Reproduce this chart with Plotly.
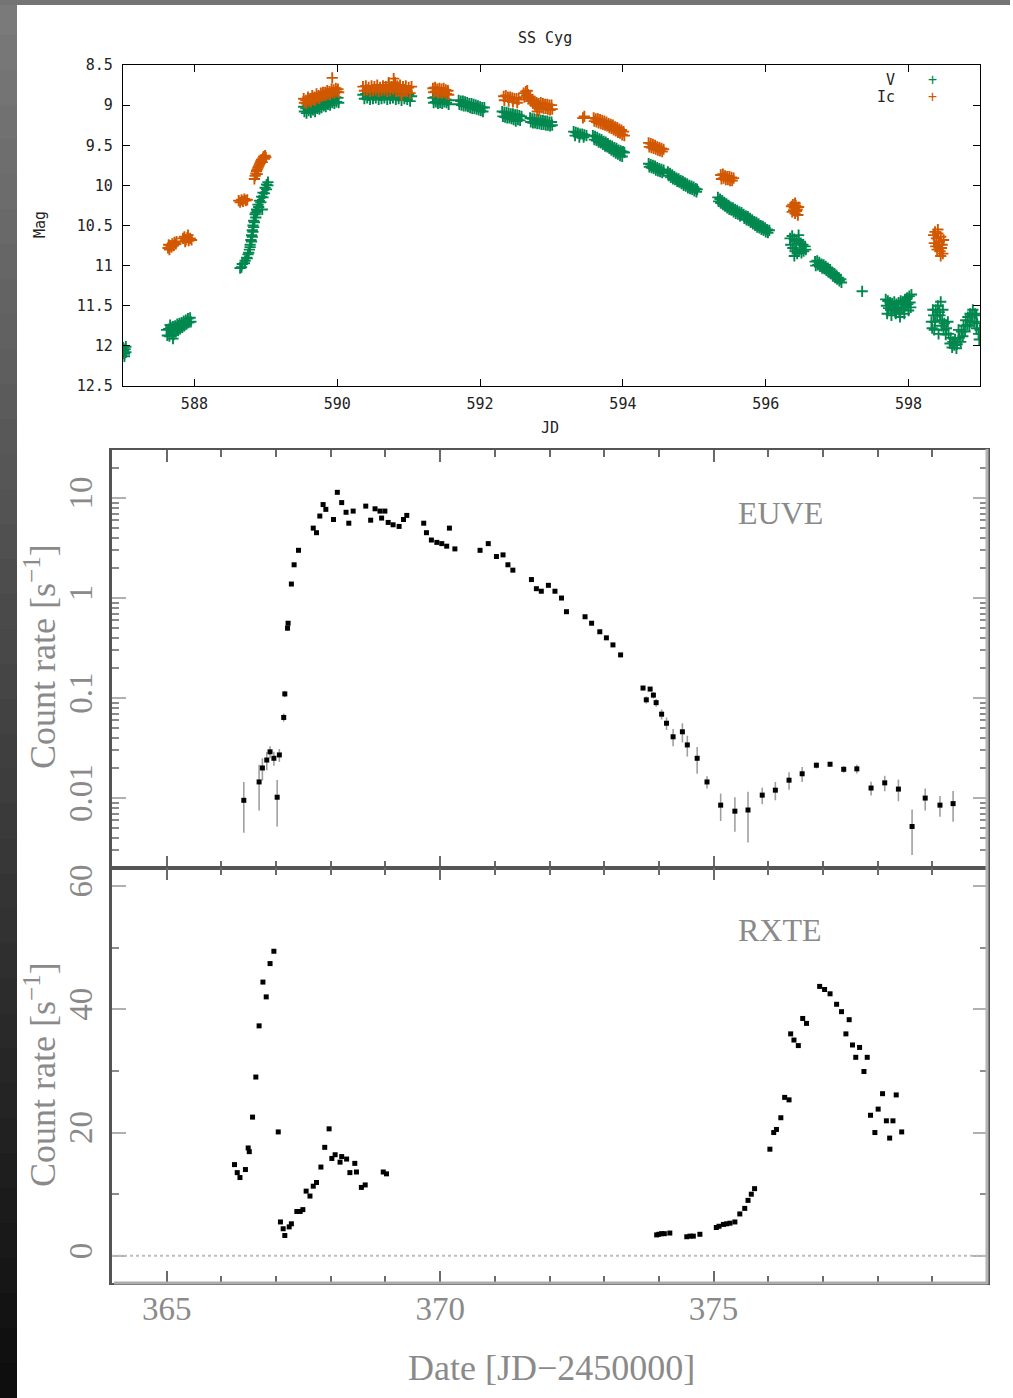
import plotly.graph_objects as go

# ---------------- SS Cyg optical light curve (V and Ic magnitudes) ----------------
v_jd = [
    587.00, 587.01, 587.02, 587.03, 587.04, 587.02, 587.00, 587.04,
    587.61, 587.64, 587.67, 587.70, 587.73, 587.76, 587.79, 587.82, 587.85, 587.88, 587.91, 587.94,
    587.62, 587.65, 587.68, 587.71, 587.74, 587.77, 587.80, 587.83, 587.86, 587.89, 587.92, 587.95,
    587.70, 587.66,
    588.64, 588.67, 588.71, 588.73, 588.75, 588.77, 588.78, 588.79, 588.80, 588.81, 588.82, 588.83,
    588.85, 588.87, 588.89, 588.91, 588.94, 588.96, 588.99, 589.01, 589.03, 588.86, 588.95,
    588.66, 588.70, 588.74, 588.76, 588.78, 588.80, 588.81, 588.82, 588.83, 588.84, 588.86, 588.88,
    588.90, 588.93, 588.96, 588.98, 589.01, 589.03,
    589.53, 589.56, 589.59, 589.62, 589.65, 589.68, 589.71, 589.74, 589.77, 589.80, 589.83, 589.86,
    589.89, 589.92, 589.95, 589.98, 590.01,
    589.54, 589.57, 589.60, 589.63, 589.66, 589.69, 589.72, 589.75, 589.78, 589.81, 589.84, 589.87,
    589.90, 589.93, 589.96, 589.99, 590.02,
    590.36, 590.40, 590.44, 590.48, 590.52, 590.56, 590.60, 590.64, 590.68, 590.72, 590.76, 590.80,
    590.84, 590.88, 590.92, 590.96, 591.00, 591.04,
    590.38, 590.42, 590.46, 590.50, 590.54, 590.58, 590.62, 590.66, 590.70, 590.74, 590.78, 590.82,
    590.86, 590.90, 590.94, 590.98, 591.02,
    591.34, 591.37, 591.40, 591.43, 591.46, 591.49, 591.52, 591.55,
    591.35, 591.38, 591.41, 591.44, 591.47, 591.50, 591.53, 591.56,
    591.70, 591.73, 591.76, 591.79, 591.82, 591.85, 591.88, 591.91, 591.94, 591.97, 592.00, 592.03, 592.06,
    591.71, 591.74, 591.77, 591.80, 591.83, 591.86, 591.89, 591.92, 591.95, 591.98, 592.01, 592.04,
    592.31, 592.34, 592.37, 592.40, 592.43, 592.46, 592.49, 592.52, 592.55, 592.58,
    592.32, 592.35, 592.38, 592.41, 592.44, 592.47, 592.50, 592.53, 592.56,
    592.70, 592.73, 592.76, 592.79, 592.82, 592.85, 592.88, 592.91, 592.94, 592.97, 593.00,
    592.71, 592.74, 592.77, 592.80, 592.83, 592.86, 592.89, 592.92, 592.95, 592.98, 593.01,
    593.31, 593.34, 593.37, 593.40, 593.43, 593.46, 593.49, 593.33, 593.39, 593.45,
    593.58, 593.61, 593.64, 593.67, 593.70, 593.73, 593.76, 593.79, 593.82, 593.85, 593.88, 593.91,
    593.94, 593.97, 594.00, 594.02,
    593.60, 593.63, 593.66, 593.69, 593.72, 593.75, 593.78, 593.81, 593.84, 593.87, 593.90, 593.93,
    593.96, 593.99,
    594.36, 594.39, 594.42, 594.45, 594.48, 594.51, 594.54, 594.57,
    594.37, 594.40, 594.43, 594.46, 594.49, 594.52, 594.55,
    594.63, 594.66, 594.69, 594.72, 594.75, 594.78, 594.81, 594.84, 594.87, 594.90, 594.93, 594.96,
    594.99, 595.02, 595.04,
    594.64, 594.67, 594.70, 594.73, 594.76, 594.79, 594.82, 594.85, 594.88, 594.91, 594.94, 594.97,
    595.00, 595.03,
    595.33, 595.36, 595.39, 595.42, 595.45, 595.48, 595.51, 595.54, 595.57, 595.60, 595.63, 595.66,
    595.34, 595.37, 595.40, 595.43, 595.46, 595.49, 595.52, 595.55, 595.58, 595.61, 595.64,
    595.69, 595.72, 595.75, 595.78, 595.81, 595.84, 595.87, 595.90, 595.93, 595.96, 595.99, 596.02, 596.05,
    595.70, 595.73, 595.76, 595.79, 595.82, 595.85, 595.88, 595.91, 595.94, 595.97, 596.00, 596.03,
    596.34, 596.37, 596.40, 596.43, 596.46, 596.49, 596.52, 596.55,
    596.35, 596.38, 596.41, 596.44, 596.47, 596.50, 596.53, 596.56, 596.40, 596.46,
    596.69, 596.72, 596.75, 596.78, 596.81, 596.84, 596.87, 596.90, 596.93, 596.96, 596.99, 597.02, 597.05,
    596.70, 596.73, 596.76, 596.79, 596.82, 596.85, 596.88, 596.91, 596.94, 596.97, 597.00, 597.03, 597.06,
    597.35,
    597.68, 597.71, 597.74, 597.77, 597.80, 597.83, 597.86, 597.89, 597.92, 597.95, 597.98, 598.01, 598.04,
    597.69, 597.72, 597.75, 597.78, 597.81, 597.84, 597.87, 597.90, 597.93, 597.96, 597.99, 598.02,
    597.70, 597.76, 597.82, 597.88, 597.94, 598.00, 598.03,
    598.32, 598.35, 598.38, 598.41, 598.44, 598.47, 598.50, 598.53, 598.56, 598.59, 598.62, 598.65,
    598.68, 598.71, 598.74, 598.77, 598.80, 598.83, 598.86, 598.89, 598.92, 598.95, 598.98, 599.00,
    598.36, 598.42, 598.48, 598.55, 598.70, 598.85, 598.95,
    598.33, 598.37, 598.40, 598.43, 598.46, 598.49, 598.52, 598.58, 598.61, 598.64, 598.67, 598.73,
    598.76, 598.79, 598.82, 598.87, 598.90, 598.93, 598.96, 598.99, 599.02, 598.34, 598.45,
]
v_mag = [
    12.02, 12.06, 12.10, 12.04, 12.08, 12.13, 12.09, 12.01,
    11.80, 11.79, 11.77, 11.76, 11.75, 11.73, 11.72, 11.71, 11.69, 11.68, 11.66, 11.65,
    11.87, 11.88, 11.85, 11.86, 11.83, 11.81, 11.79, 11.77, 11.75, 11.73, 11.71, 11.70,
    11.91, 11.74,
    11.03, 10.98, 10.94, 10.90, 10.86, 10.80, 10.74, 10.68, 10.62, 10.56, 10.50, 10.44,
    10.36, 10.30, 10.24, 10.19, 10.14, 10.09, 10.03, 9.99, 9.96, 10.34, 10.30,
    11.02, 10.97, 10.91, 10.84, 10.77, 10.70, 10.64, 10.58, 10.52, 10.46, 10.40, 10.32,
    10.27, 10.21, 10.15, 10.10, 10.05, 10.00,
    9.02, 9.04, 9.01, 9.03, 9.00, 9.02, 8.98, 9.00, 8.97, 8.95, 8.96, 8.93,
    8.94, 8.91, 8.92, 8.90, 8.91,
    9.08, 9.10, 9.07, 9.09, 9.06, 9.08, 9.04, 9.05, 9.03, 9.01, 9.02, 8.99,
    9.00, 8.97, 8.98, 8.96, 8.97,
    8.87, 8.86, 8.88, 8.86, 8.87, 8.85, 8.88, 8.86, 8.87, 8.85, 8.88, 8.86,
    8.87, 8.86, 8.88, 8.86, 8.87, 8.89,
    8.92, 8.91, 8.93, 8.92, 8.91, 8.93, 8.92, 8.91, 8.93, 8.92, 8.91, 8.93,
    8.92, 8.94, 8.92, 8.93, 8.95,
    8.91, 8.90, 8.92, 8.91, 8.92, 8.91, 8.93, 8.94,
    8.97, 8.96, 8.98, 8.97, 8.98, 8.96, 8.97, 8.99,
    8.94, 8.95, 8.95, 8.96, 8.97, 8.98, 8.98, 8.99, 9.00, 9.01, 9.02, 9.03, 9.03,
    8.99, 9.00, 9.01, 9.01, 9.02, 9.03, 9.04, 9.04, 9.05, 9.06, 9.07, 9.08,
    9.08, 9.09, 9.09, 9.10, 9.11, 9.11, 9.12, 9.12, 9.13, 9.14,
    9.14, 9.15, 9.16, 9.16, 9.17, 9.18, 9.20, 9.18, 9.19,
    9.16, 9.17, 9.17, 9.18, 9.18, 9.19, 9.19, 9.20, 9.20, 9.21, 9.21,
    9.21, 9.22, 9.22, 9.23, 9.23, 9.24, 9.24, 9.25, 9.25, 9.26, 9.25,
    9.33, 9.34, 9.35, 9.36, 9.36, 9.37, 9.38, 9.38, 9.40, 9.40,
    9.38, 9.39, 9.40, 9.42, 9.43, 9.45, 9.46, 9.48, 9.50, 9.51, 9.53, 9.54,
    9.56, 9.57, 9.58, 9.59,
    9.43, 9.44, 9.46, 9.47, 9.49, 9.51, 9.52, 9.54, 9.56, 9.58, 9.60, 9.61,
    9.63, 9.64,
    9.73, 9.74, 9.75, 9.76, 9.78, 9.79, 9.80, 9.81,
    9.77, 9.78, 9.79, 9.81, 9.82, 9.83, 9.84,
    9.83, 9.85, 9.87, 9.89, 9.91, 9.92, 9.94, 9.95, 9.97, 9.98, 10.00, 10.01,
    10.02, 10.04, 10.05,
    9.88, 9.90, 9.92, 9.93, 9.95, 9.96, 9.98, 10.00, 10.01, 10.03, 10.04, 10.05,
    10.07, 10.08,
    10.15, 10.17, 10.19, 10.21, 10.23, 10.25, 10.27, 10.28, 10.30, 10.31, 10.33, 10.34,
    10.20, 10.22, 10.24, 10.26, 10.28, 10.30, 10.31, 10.33, 10.35, 10.36, 10.38,
    10.36, 10.38, 10.39, 10.41, 10.43, 10.45, 10.46, 10.48, 10.50, 10.51, 10.53, 10.55, 10.56,
    10.41, 10.43, 10.44, 10.46, 10.48, 10.50, 10.52, 10.53, 10.55, 10.56, 10.58, 10.59,
    10.66, 10.63, 10.67, 10.70, 10.68, 10.72, 10.74, 10.76,
    10.74, 10.78, 10.82, 10.85, 10.80, 10.84, 10.82, 10.80, 10.88, 10.62,
    10.95, 10.94, 10.96, 10.98, 10.99, 11.01, 11.03, 11.05, 11.08, 11.10, 11.12, 11.15, 11.17,
    11.00, 10.99, 11.01, 11.03, 11.04, 11.06, 11.08, 11.10, 11.13, 11.15, 11.17, 11.19, 11.21,
    11.32,
    11.42, 11.44, 11.46, 11.47, 11.45, 11.48, 11.46, 11.44, 11.45, 11.42, 11.40, 11.38, 11.36,
    11.50, 11.53, 11.55, 11.52, 11.56, 11.54, 11.58, 11.55, 11.52, 11.50, 11.48, 11.46,
    11.60, 11.62, 11.60, 11.64, 11.60, 11.56, 11.52,
    11.70, 11.62, 11.55, 11.50, 11.62, 11.68, 11.72, 11.78, 11.85, 11.90, 11.95, 11.92,
    11.98, 11.90, 11.82, 11.75, 11.68, 11.64, 11.60, 11.62, 11.70, 11.78, 11.85, 11.80,
    11.80, 11.85, 11.55, 11.70, 11.80, 11.75, 11.62,
    11.78, 11.70, 11.62, 11.58, 11.75, 11.80, 11.86, 11.97, 12.02, 11.99, 12.03, 11.95,
    11.88, 11.82, 11.74, 11.70, 11.55, 11.60, 11.72, 11.92, 11.85, 11.55, 11.45,
]

ic_jd = [
    587.63, 587.65, 587.66, 587.68, 587.69, 587.71, 587.72, 587.74, 587.75, 587.64,
    587.84, 587.86, 587.88, 587.90, 587.92, 587.94, 587.96, 587.87, 587.91,
    588.62, 588.64, 588.66, 588.68, 588.70, 588.72, 588.74,
    588.84, 588.85, 588.86, 588.87, 588.88, 588.89, 588.90, 588.91, 588.92, 588.93, 588.94, 588.95,
    588.96, 588.97, 588.98, 588.99, 589.00, 588.88,
    589.53, 589.56, 589.59, 589.62, 589.65, 589.68, 589.71, 589.74, 589.77, 589.80, 589.83, 589.86,
    589.89, 589.92, 589.95, 589.98, 590.01,
    589.54, 589.57, 589.60, 589.63, 589.66, 589.69, 589.72, 589.75, 589.78, 589.81, 589.84, 589.87,
    589.90, 589.93, 589.96, 589.99, 590.02, 589.93,
    590.36, 590.40, 590.44, 590.48, 590.52, 590.56, 590.60, 590.64, 590.68, 590.72, 590.76, 590.80,
    590.84, 590.88, 590.92, 590.96, 591.00, 591.04,
    590.38, 590.42, 590.46, 590.50, 590.54, 590.58, 590.62, 590.66, 590.70, 590.74, 590.78, 590.82,
    590.86, 590.90, 590.94, 590.98, 591.02, 590.79, 590.81, 590.72, 590.90,
    591.34, 591.37, 591.40, 591.43, 591.46, 591.49, 591.52, 591.55,
    591.35, 591.38, 591.41, 591.44, 591.47, 591.50, 591.53, 591.56,
    592.33, 592.36, 592.39, 592.42, 592.45, 592.48, 592.51, 592.54, 592.34, 592.40, 592.46, 592.52,
    592.61, 592.64, 592.67, 592.70, 592.73, 592.76, 592.79, 592.82, 592.85, 592.88, 592.91, 592.94,
    592.97, 593.00,
    592.62, 592.65, 592.68, 592.71, 592.74, 592.77, 592.80, 592.83, 592.86, 592.89, 592.92, 592.95,
    592.98, 593.01, 592.80, 592.66,
    593.44, 593.46,
    593.59, 593.62, 593.65, 593.68, 593.71, 593.74, 593.77, 593.80, 593.83, 593.86, 593.89, 593.92,
    593.95, 593.98, 594.01,
    593.60, 593.63, 593.66, 593.69, 593.72, 593.75, 593.78, 593.81, 593.84, 593.87, 593.90, 593.93,
    593.96, 593.99, 594.02,
    594.36, 594.39, 594.42, 594.45, 594.48, 594.51, 594.54, 594.57,
    594.37, 594.40, 594.43, 594.46, 594.49, 594.52, 594.55,
    595.37, 595.40, 595.43, 595.46, 595.49, 595.52, 595.55,
    595.38, 595.41, 595.44, 595.47, 595.50, 595.53,
    596.36, 596.38, 596.40, 596.42, 596.44, 596.46, 596.37, 596.39, 596.41, 596.43, 596.45, 596.41,
    598.35, 598.37, 598.39, 598.41, 598.43, 598.45, 598.47, 598.49,
    598.36, 598.38, 598.40, 598.42, 598.44, 598.46, 598.48, 598.41, 598.45,
]
ic_mag = [
    10.78, 10.80, 10.75, 10.77, 10.73, 10.75, 10.71, 10.73, 10.70, 10.74,
    10.66, 10.64, 10.68, 10.65, 10.69, 10.66, 10.68, 10.70, 10.62,
    10.19, 10.21, 10.18, 10.20, 10.17, 10.19, 10.18,
    9.92, 9.88, 9.85, 9.82, 9.80, 9.78, 9.76, 9.74, 9.72, 9.70, 9.68, 9.71,
    9.66, 9.64, 9.67, 9.63, 9.65, 9.86,
    8.92, 8.94, 8.90, 8.92, 8.88, 8.90, 8.86, 8.88, 8.85, 8.84, 8.84, 8.82,
    8.83, 8.80, 8.81, 8.79, 8.80,
    8.97, 8.98, 8.95, 8.96, 8.93, 8.94, 8.91, 8.92, 8.89, 8.88, 8.88, 8.86,
    8.87, 8.84, 8.85, 8.83, 8.84, 8.66,
    8.77, 8.76, 8.78, 8.76, 8.77, 8.75, 8.78, 8.76, 8.77, 8.75, 8.77, 8.74,
    8.76, 8.75, 8.77, 8.76, 8.78, 8.77,
    8.82, 8.81, 8.83, 8.82, 8.81, 8.83, 8.82, 8.81, 8.83, 8.82, 8.80, 8.83,
    8.82, 8.84, 8.82, 8.83, 8.85, 8.67, 8.72, 8.72, 8.88,
    8.79, 8.78, 8.80, 8.79, 8.80, 8.79, 8.81, 8.82,
    8.84, 8.83, 8.85, 8.84, 8.85, 8.84, 8.86, 8.87,
    8.89, 8.88, 8.90, 8.90, 8.91, 8.92, 8.92, 8.93, 8.94, 8.95, 8.96, 8.97,
    8.85, 8.83, 8.87, 8.90, 8.93, 8.95, 8.97, 8.98, 8.97, 8.98, 8.99, 8.99,
    9.00, 9.00,
    8.90, 8.88, 8.92, 8.95, 8.98, 9.00, 9.02, 9.05, 9.03, 9.04, 9.04, 9.05,
    9.06, 9.05, 9.08, 8.82,
    9.16, 9.14,
    9.16, 9.17, 9.17, 9.18, 9.19, 9.20, 9.21, 9.23, 9.24, 9.25, 9.27, 9.28,
    9.30, 9.31, 9.33,
    9.20, 9.21, 9.22, 9.23, 9.24, 9.25, 9.26, 9.28, 9.29, 9.31, 9.32, 9.34,
    9.35, 9.37, 9.38,
    9.47, 9.48, 9.49, 9.50, 9.52, 9.53, 9.54, 9.55,
    9.52, 9.53, 9.54, 9.55, 9.56, 9.57, 9.58,
    9.87, 9.86, 9.88, 9.89, 9.89, 9.90, 9.91,
    9.92, 9.91, 9.93, 9.93, 9.94, 9.94,
    10.26, 10.24, 10.28, 10.25, 10.30, 10.27, 10.33, 10.31, 10.35, 10.32, 10.37, 10.22,
    10.62, 10.58, 10.66, 10.60, 10.70, 10.64, 10.74, 10.68,
    10.72, 10.76, 10.80, 10.74, 10.82, 10.78, 10.85, 10.55, 10.88,
]

# ---------------- EUVE count rate (log scale) ----------------
euve_date = [
    366.41, 366.69, 366.75, 366.83, 366.89, 366.96, 367.02, 367.06, 367.14, 367.16,
    367.21, 367.22, 367.28, 367.33, 367.41, 367.68, 367.74, 367.80, 367.86, 367.91,
    368.05, 368.12, 368.20, 368.28, 368.33, 368.41, 368.64, 368.73, 368.81, 368.90,
    368.93, 368.99, 369.05, 369.14, 369.25, 369.33, 369.39, 369.70, 369.75, 369.84,
    369.94, 370.03, 370.12, 370.17, 370.27, 370.73, 370.88, 371.03, 371.15, 371.24,
    371.33, 371.67, 371.76, 371.85, 371.98, 372.10, 372.22, 372.31, 372.65, 372.77,
    372.92, 373.04, 373.16, 373.30, 373.71, 373.77, 373.84, 373.90, 373.95, 374.05,
    374.14, 374.26, 374.43, 374.52, 374.70, 374.88, 375.13, 375.39, 375.63, 375.89,
    376.13, 376.38, 376.62, 376.88, 377.13, 377.38, 377.62, 377.88, 378.13, 378.38,
    378.63, 378.87, 379.14, 379.38,
]
euve_rate = [
    0.0095, 0.0145, 0.020, 0.024, 0.029, 0.025, 0.0102, 0.027, 0.064, 0.11,
    0.50, 0.56, 1.38, 2.15, 3.0, 5.0, 4.5, 6.6, 8.6, 7.7,
    6.1, 11.4, 9.0, 7.2, 5.6, 7.4, 8.3, 6.0, 7.8, 7.4,
    6.3, 7.4, 5.7, 5.4, 5.2, 6.1, 6.7, 5.6, 4.5, 3.8,
    3.6, 3.5, 3.3, 5.0, 3.1, 3.0, 3.5, 2.6, 2.7, 2.15,
    1.9, 1.53, 1.24, 1.17, 1.34, 1.17, 1.0, 0.73, 0.65, 0.56,
    0.46, 0.40, 0.34, 0.27, 0.126, 0.096, 0.123, 0.107, 0.090, 0.069,
    0.056, 0.041, 0.046, 0.034, 0.025, 0.0145, 0.0085, 0.0074, 0.0076, 0.0107,
    0.012, 0.0151, 0.0175, 0.0213, 0.0218, 0.0194, 0.0196, 0.0126, 0.0142, 0.0123,
    0.0052, 0.0100, 0.0085, 0.0088,
]
euve_err = [
    0.005, 0.007, 0.005, 0.005, 0.004, 0.004, 0.005, 0.004, 0.006, 0.008,
    0.03, 0.03, 0.05, 0.06, 0.08, 0.1, 0.1, 0.12, 0.15, 0.15,
    0.12, 0.2, 0.15, 0.15, 0.12, 0.15, 0.15, 0.12, 0.15, 0.15,
    0.12, 0.15, 0.12, 0.12, 0.12, 0.12, 0.12, 0.1, 0.1, 0.08,
    0.08, 0.08, 0.08, 0.1, 0.08, 0.08, 0.08, 0.06, 0.06, 0.05,
    0.05, 0.04, 0.03, 0.03, 0.03, 0.03, 0.03, 0.02, 0.02, 0.02,
    0.015, 0.012, 0.01, 0.01, 0.006, 0.008, 0.006, 0.008, 0.008, 0.008,
    0.008, 0.008, 0.010, 0.008, 0.0075, 0.002, 0.0026, 0.0028, 0.004, 0.002,
    0.0025, 0.003, 0.003, 0.0015, 0.0012, 0.0015, 0.002, 0.002, 0.0025, 0.003,
    0.0025, 0.0025, 0.002, 0.003,
]

# ---------------- RXTE count rate ----------------
rxte_date = [
    366.24, 366.29, 366.34, 366.44, 366.49, 366.51, 366.57, 366.63, 366.69, 366.76,
    366.82, 366.89, 366.96, 367.04, 367.08, 367.13, 367.16, 367.24, 367.28, 367.38,
    367.44, 367.49, 367.55, 367.62, 367.68, 367.74, 367.82, 367.89, 367.97, 368.02,
    368.08, 368.17, 368.20, 368.29, 368.35, 368.44, 368.47, 368.56, 368.63, 368.96,
    369.02,
    373.96, 374.00, 374.05, 374.10, 374.20, 374.51, 374.57, 374.63, 374.75, 375.05,
    375.10, 375.18, 375.24, 375.30, 375.39, 375.48, 375.57, 375.63, 375.69, 375.75,
    376.03, 376.10, 376.15, 376.23, 376.30, 376.38, 376.41, 376.47, 376.55, 376.63,
    376.70, 376.94, 377.03, 377.13, 377.25, 377.34, 377.42, 377.48, 377.54, 377.60,
    377.67, 377.75, 377.81, 377.87, 377.95, 378.01, 378.09, 378.16, 378.22, 378.28,
    378.34, 378.44,
]
rxte_rate = [
    14.8, 13.5, 12.7, 14.0, 17.5, 16.9, 22.5, 29.0, 37.3, 44.4,
    42.0, 47.4, 49.4, 20.1, 5.5, 4.4, 3.3, 4.7, 5.2, 7.2,
    7.2, 7.5, 10.5, 9.7, 11.3, 11.9, 14.4, 17.6, 20.6, 15.8,
    16.4, 15.2, 16.1, 15.7, 13.5, 15.0, 13.6, 11.1, 11.5, 13.6,
    13.3,
    3.4, 3.5, 3.6, 3.6, 3.7, 3.1, 3.2, 3.2, 3.5, 4.6,
    4.8, 5.1, 5.2, 5.3, 5.5, 6.8, 7.7, 9.0, 10.0, 10.9,
    17.3, 20.0, 20.5, 22.4, 25.7, 25.3, 36.0, 35.0, 34.1, 38.5,
    37.7, 43.7, 43.2, 42.5, 40.8, 39.6, 36.0, 38.3, 34.2, 32.2,
    33.8, 29.9, 32.2, 22.8, 20.0, 23.8, 26.3, 21.9, 19.1, 21.9,
    26.1, 20.1,
]

euve_ticks = [0.01, 0.1, 1, 10]
euve_ticktext = ["0.01", "0.1", "1", "10"]
rxte_ticks = [0, 20, 40, 60]

assert len(v_jd) == len(v_mag)
assert len(ic_jd) == len(ic_mag)
assert len(euve_date) == len(euve_rate) == len(euve_err)
assert len(rxte_date) == len(rxte_rate)

# ---------------- page geometry helpers (pixels -> paper) ----------------
W, H = 1013, 1398


def fx(p):
    return p / W


def fy(p):
    return 1 - p / H


GREEN = "#00884f"
ORANGE = "#d15800"
MONO = "DejaVu Sans Mono"
SERIF = "Liberation Serif"
GREYTXT = "#8a8a8a"

fig = go.Figure()

fig.add_trace(go.Scatter(
    x=v_jd, y=v_mag, mode="markers", name="V", showlegend=False,
    marker=dict(symbol="cross-thin", size=8, color=GREEN, line=dict(width=1.9, color=GREEN)),
    xaxis="x", yaxis="y"))
fig.add_trace(go.Scatter(
    x=ic_jd, y=ic_mag, mode="markers", name="Ic", showlegend=False,
    marker=dict(symbol="cross-thin", size=8, color=ORANGE, line=dict(width=1.9, color=ORANGE)),
    xaxis="x", yaxis="y"))

fig.add_trace(go.Scatter(
    x=euve_date, y=euve_rate, mode="markers", showlegend=False,
    marker=dict(symbol="square", size=5, color="black"),
    error_y=dict(type="data", array=euve_err, color="#a0a0a0", thickness=1.6, width=0),
    xaxis="x2", yaxis="y2"))

fig.add_trace(go.Scatter(
    x=rxte_date, y=rxte_rate, mode="markers", showlegend=False,
    marker=dict(symbol="square", size=5, color="black"),
    xaxis="x3", yaxis="y3"))

top_tickfont = dict(family=MONO, size=15, color="#222")
serif_tick = dict(family=SERIF, size=33, color=GREYTXT)

# minor tick positions on the log axis (2..9 of each decade)
log_minor = [m * 10 ** e for e in range(-3, 2) for m in range(2, 10)]

fig.update_layout(
    template="none",
    width=W, height=H, autosize=False,
    margin=dict(l=0, r=0, t=0, b=0, pad=0, autoexpand=False),
    paper_bgcolor="white", plot_bgcolor="white",
    showlegend=False,
    # --- optical panel ---
    xaxis=dict(domain=[fx(123), fx(980)], anchor="y", range=[587, 599],
               tick0=588, dtick=2, ticks="inside", ticklen=7, tickwidth=1.2,
               tickcolor="black", showline=True, linecolor="black", linewidth=1.3,
               mirror="ticks", showgrid=False, zeroline=False, tickfont=top_tickfont,
               ticklabelstandoff=4, automargin=False),
    yaxis=dict(domain=[fy(386), fy(65)], anchor="x", range=[12.5, 8.5],
               tick0=8.5, dtick=0.5, ticks="inside", ticklen=7, tickwidth=1.2,
               tickcolor="black", showline=True, linecolor="black", linewidth=1.3,
               mirror="ticks", showgrid=False, zeroline=False, tickfont=top_tickfont,
               ticklabelstandoff=6, automargin=False),
    # --- EUVE panel ---
    xaxis2=dict(domain=[fx(112), fx(987)], anchor="y2", range=[364, 380],
                tick0=365, dtick=5, ticks="inside", ticklen=12, tickwidth=2,
                tickcolor="#6a6a6a", showticklabels=False,
                minor=dict(dtick=1, tick0=365, ticks="inside", ticklen=7,
                           tickwidth=2, tickcolor="#6a6a6a"),
                showline=True, linecolor="#555", linewidth=1.5, mirror="ticks",
                showgrid=False, zeroline=False, automargin=False),
    xaxis4=dict(domain=[fx(112), fx(987)], anchor="y2", overlaying="x2", side="top",
                range=[364, 380], tick0=365, dtick=5, ticks="outside", ticklen=12,
                tickwidth=2, tickcolor="#6a6a6a", showticklabels=False,
                minor=dict(dtick=1, tick0=365, ticks="outside", ticklen=7,
                           tickwidth=2, tickcolor="#6a6a6a"),
                showline=False, showgrid=False, zeroline=False, automargin=False),
    yaxis2=dict(domain=[fy(868), fy(450)], anchor="x2", type="log",
                range=[-2.699, 1.48], tickvals=euve_ticks, ticktext=euve_ticktext,
                ticks="inside", ticklen=14, tickwidth=2, tickcolor="#b0b0b0",
                minor=dict(tickvals=log_minor, ticks="inside", ticklen=7,
                           tickwidth=1.5, tickcolor="#8c8c8c"),
                showline=True, linecolor="#555", linewidth=2.5, mirror="ticks",
                showgrid=False, zeroline=False, tickangle=-90, tickfont=serif_tick,
                ticklabelstandoff=4, automargin=False),
    # --- RXTE panel ---
    xaxis3=dict(domain=[fx(112), fx(987)], anchor="y3", range=[364, 380],
                tickvals=[365, 370, 375], ticks="inside", ticklen=12, tickwidth=2,
                tickcolor="#6a6a6a",
                minor=dict(dtick=1, tick0=365, ticks="inside", ticklen=7,
                           tickwidth=2, tickcolor="#6a6a6a"),
                showline=True, linecolor="#555", linewidth=1.5, mirror="ticks",
                showgrid=False, zeroline=False, tickfont=serif_tick,
                ticklabelstandoff=-4, automargin=False),
    yaxis3=dict(domain=[fy(1283), fy(868)], anchor="x3", range=[-4.4, 62.9],
                tickvals=rxte_ticks, ticks="inside", ticklen=14, tickwidth=2,
                tickcolor="#b0b0b0",
                minor=dict(dtick=10, tick0=0, ticks="inside", ticklen=7,
                           tickwidth=1.5, tickcolor="#8c8c8c"),
                showline=True, linecolor="#555", linewidth=2.5, mirror="ticks",
                showgrid=False, zeroline=False, tickangle=-90, tickfont=serif_tick,
                ticklabelstandoff=4, automargin=False),
)

shapes = []
# dark frame strip on the left with a vertical grey gradient, and a bar along the top
n_strips = 40
for i in range(n_strips):
    g = int(122 - (122 - 14) * i / (n_strips - 1))
    shapes.append(dict(type="rect", xref="paper", yref="paper",
                       x0=0, x1=fx(17), y0=fy((i + 1) * H / n_strips) - 0.001,
                       y1=fy(i * H / n_strips),
                       fillcolor=f"rgb({g},{g},{g})", line=dict(width=0), layer="below"))
shapes.append(dict(type="rect", xref="paper", yref="paper", x0=0, x1=fx(1010),
                   y0=fy(5), y1=1, fillcolor="#747474", line=dict(width=0), layer="below"))
# light grey right and bottom frame lines of the X-ray panels
shapes.append(dict(type="line", xref="paper", yref="paper", x0=fx(987), x1=fx(987),
                   y0=fy(1284), y1=fy(449), line=dict(color="#b4b4b4", width=3)))
shapes.append(dict(type="line", xref="paper", yref="paper", x0=fx(114), x1=fx(988),
                   y0=fy(1283), y1=fy(1283), line=dict(color="#acacac", width=3)))
# dotted zero level of the RXTE panel
shapes.append(dict(type="line", xref="x3 domain", yref="y3", x0=0, x1=1, y0=0, y1=0,
                   line=dict(color="#bdbdbd", width=2, dash="dot")))
fig.update_layout(shapes=shapes)


def ann(text, x, y, font, xanchor="center", **kw):
    return dict(text=text, x=fx(x), y=fy(y), xref="paper", yref="paper",
                xanchor=xanchor, yanchor="middle", showarrow=False, font=font, **kw)


mono_lbl = dict(family=MONO, size=15, color="#222")
serif_title = dict(family=SERIF, size=36, color=GREYTXT)
serif_tag = dict(family=SERIF, size=32, color=GREYTXT)

fig.update_layout(annotations=[
    ann("SS Cyg", 545, 38, mono_lbl),
    ann("JD", 550, 428, mono_lbl),
    ann("Mag", 40, 225, mono_lbl, textangle=-90),
    ann("V", 897, 80, mono_lbl, xanchor="right"),
    ann("Ic", 897, 97, mono_lbl, xanchor="right"),
    ann("+", 932, 80, dict(family=MONO, size=15, color=GREEN)),
    ann("+", 932, 97, dict(family=MONO, size=15, color=ORANGE)),
    ann("EUVE", 780, 513, serif_tag),
    ann("RXTE", 780, 930, serif_tag),
    ann("Count rate [s<sup>\u22121</sup>]", 40, 657, serif_title, textangle=-90),
    ann("Count rate [s<sup>\u22121</sup>]", 40, 1075, serif_title, textangle=-90),
    ann("Date [JD\u22122450000]", 551, 1368, serif_title),
])

# the page body has no margin so the figure sits flush with the window
fig.write_html("out.html",
               post_script="document.body.style.margin='0';document.body.style.padding='0';")
